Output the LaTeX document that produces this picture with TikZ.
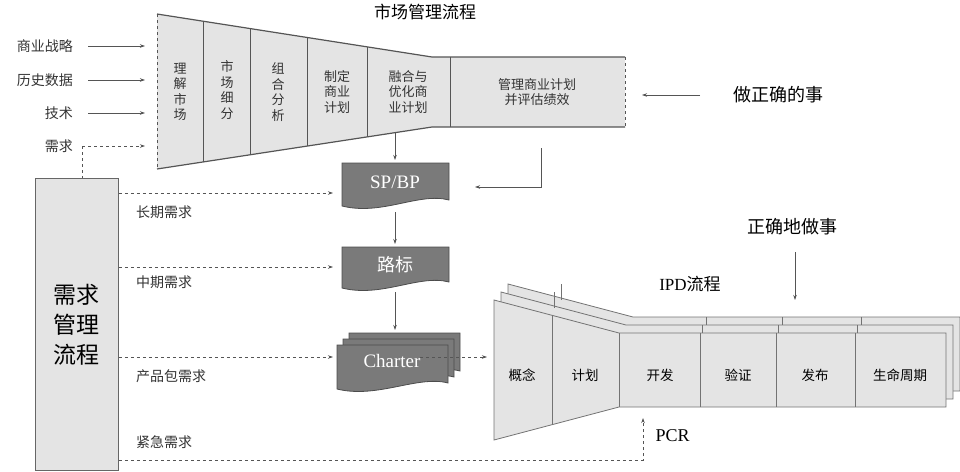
\documentclass[tikz,border=0pt]{standalone}
\usepackage{fontspec}
\setmainfont{Noto Sans CJK SC}
\newfontfamily\lat{Liberation Serif}
\usetikzlibrary{arrows.meta}
\definecolor{lg}{HTML}{E4E4E4}
\definecolor{dg}{HTML}{7A7A7A}
\definecolor{ln}{HTML}{555555}
\begin{document}
\begin{tikzpicture}[x=1pt,y=-1pt,
  arr/.style={-{Stealth[length=5pt,width=3.5pt]},draw=ln,line width=0.7pt},
  darr/.style={arr,dashed},
  lab/.style={font=\fontsize{14}{16}\selectfont,text=black!80,inner sep=1pt},
  ftxt/.style={font=\fontsize{13}{15.5}\selectfont,align=center,text=black!80},
  doc/.style={fill=dg,draw=black!70,line width=0.8pt},
  panel/.style={fill=lg,draw=black!55,line width=0.8pt}]
\useasboundingbox (0,0) rectangle (960,471);
% title
\node[font=\fontsize{17}{19}\selectfont] (title) at (425,12) {市场管理流程};
% funnel
\fill[lg] (157,14) -- (432,57) -- (625,57) -- (625,127) -- (432,127) -- (157,169) -- cycle;
\draw[ln,line width=1.2pt] (157,14) -- (432,57) -- (625,57);
\draw[ln,line width=1.2pt] (157,169) -- (432,127) -- (625,127);
\draw[ln,dashed,line width=0.8pt] (157,14) -- (157,169);
\draw[ln,dashed,line width=0.8pt] (625,57) -- (625,127);
\foreach \x in {203,250,307,367,450}{
  \pgfmathsetmacro\yt{14+(\x-157)*43/275}
  \pgfmathsetmacro\yb{169-(\x-157)*42/275}
  \ifdim\x pt>432pt \def\yt{57}\def\yb{127}\fi
  \draw[ln,line width=1pt] (\x,\yt) -- (\x,\yb);}
\node[ftxt] (f1) at (180,92) {理\\解\\市\\场};
\node[ftxt] (f2) at (227,90) {市\\场\\细\\分};
\node[ftxt] (f3) at (278,92) {组\\合\\分\\析};
\node[ftxt] (f4) at (337,92) {制定\\商业\\计划};
\node[ftxt] (f5) at (408,92) {融合与\\优化商\\业计划};
\node[ftxt] (f6) at (537,92) {管理商业计划\\并评估绩效};
% inputs
\node[lab,anchor=east] (i1) at (74,46) {商业战略};
\node[lab,anchor=east] (i2) at (74,80) {历史数据};
\node[lab,anchor=east] (i3) at (74,113) {技术};
\node[lab,anchor=east] (i4) at (74,146) {需求};
\coordinate (e1) at (145,46); \coordinate (e2) at (145,80);
\coordinate (e3) at (145,113); \coordinate (e4) at (145,146);
\draw[arr] (88,46) -- (e1);
\draw[arr] (88,80) -- (e2);
\draw[arr] (88,113) -- (e3);
\draw[darr] (82,146) -- (e4);
% demand box
\node[panel,draw=black!60,minimum width=83pt,minimum height=292pt,anchor=north west,
  font=\fontsize{23}{30}\selectfont,align=center] (dm) at (35,178) {需求\\管理\\流程};
\draw[ln,dashed,line width=0.7pt] (82,146) -- (82,178);
% documents
\newcommand\docshape[4]{% x1 y1 x2 y2
  \path[doc] (#1,#2) -- (#3,#2) -- (#3,#4-4) .. controls (#3-30,#4-12) and (#1+40,#4+12) .. (#1,#4+2) -- cycle;}
\docshape{342}{163}{449}{204}
\node[font=\lat\fontsize{19}{21}\selectfont,text=white] (sp) at (395,182) {SP/BP};
\docshape{342}{247}{449}{286}
\node[font=\fontsize{18}{21}\selectfont,text=white] (lb) at (395,265) {路标};
\docshape{349}{333}{460}{375}
\docshape{343}{339}{454}{381}
\docshape{337}{345}{448}{387}
\node[font=\lat\fontsize{19}{21}\selectfont,text=white] (ch) at (392,361) {Charter};
\draw[arr] (395,132) -- (395,160);
\draw[arr] (395,212) -- (395,244);
\draw[arr] (395,292) -- (395,330);
\draw[arr] (541,148) -- (541,187) -- (475,187);
% demand arrows
\draw[darr] (dm.east |- 0,193) -- (333,193);
\draw[darr] (dm.east |- 0,267) -- (333,267);
\draw[darr] (dm.east |- 0,357) -- (333,357);
\node[lab,anchor=west] (l1) at (135,212) {长期需求};
\node[lab,anchor=west] (l2) at (135,282) {中期需求};
\node[lab,anchor=west] (l3) at (135,376) {产品包需求};
\node[lab,anchor=west] (l4) at (135,442) {紧急需求};
\coordinate (pcr) at (643,418);
\draw[darr] (dm.east |- 0,460) -- (643,460) -- (pcr);
\node[font=\lat\fontsize{18}{20}\selectfont,anchor=west] (pcrl) at (652,436) {PCR};
% IPD
\newcommand\ipd[2]{%
  \begin{scope}[shift={(#1,#2)}]
  \path[panel] (494,300) -- (619,333) -- (946,333) -- (946,407) -- (619,407) -- (494,440) -- cycle;
  \end{scope}}
\ipd{14}{-16}\ipd{7}{-8}\ipd{0}{0}
\foreach \x in {552,619,700,776,855}{
  \pgfmathsetmacro\yt{\x<619 ? 300+(\x-494)*33/125 : 333}
  \pgfmathsetmacro\yb{\x<619 ? 440-(\x-494)*33/125 : 407}
  \draw[black!55,line width=0.8pt] (\x,\yt) -- (\x,\yb);}
\foreach \x in {700,776,855}{
  \draw[black!55,line width=0.8pt] (\x+2,325) -- (\x+2,333);
  \draw[black!55,line width=0.8pt] (\x+6,317) -- (\x+6,325);}
\draw[black!55,line width=0.8pt] (554,292) -- (554,308);
\draw[black!55,line width=0.8pt] (561,284) -- (561,300);
\foreach \t/\x in {概念/522,计划/585,开发/660,验证/738,发布/815,生命周期/900}
  \node[font=\fontsize{13.5}{16}\selectfont] (p\x) at (\x,375) {\t};
\draw[darr] (420,357) -- (487,357);
\node[font=\fontsize{17}{19}\selectfont] (ipdl) at (690,284) {{\lat IPD}流程};
% right notes
\node[font=\fontsize{18}{20}\selectfont] (zq) at (778,95) {做正确的事};
\draw[arr] (700,95) -- (642,95);
\node[font=\fontsize{18}{20}\selectfont] (zd) at (792,227) {正确地做事};
\draw[arr] (795,252) -- (795,300);
\end{tikzpicture}
\end{document}
